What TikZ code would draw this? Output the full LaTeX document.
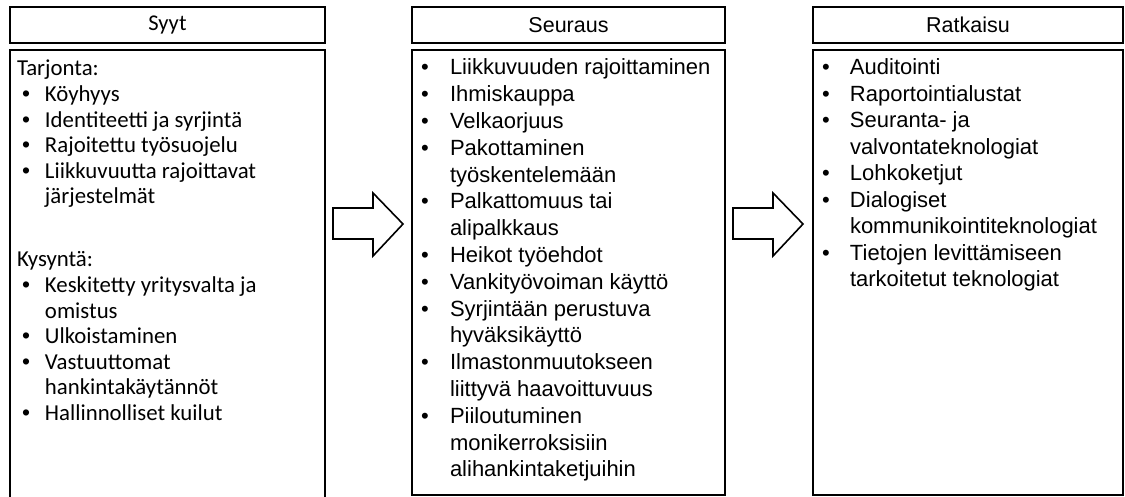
\documentclass[tikz,border=0pt]{standalone}
\usepackage{fontspec}
\setmainfont{Liberation Sans}
\newfontfamily\calfont{Carlito}
\newfontfamily\arialfont{Liberation Sans}
\newcommand\bul{{\arialfont\textbullet}}
\begin{document}
\begin{tikzpicture}[x=1pt,y=-1pt,
  frame/.style={draw, line width=1.7pt, inner sep=0pt, outer sep=0pt},
  hdr/.style={frame, minimum height=36pt, font=\fontsize{21.5}{24}\selectfont},
  body/.style={frame},
  txt/.style={inner sep=0pt, outer sep=0pt, anchor=base west, align=left},
  blockarrow/.style={draw, line width=1.6pt, line join=miter, fill=white}]
\useasboundingbox (0,0) rectangle (1125,497);
\begin{scope}
\clip (0,0) rectangle (1125,497);
% headers
\node[hdr, minimum width=315pt, font=\calfont\fontsize{22.5}{24}\selectfont] (h1) at (167.5,25) {Syyt};
\node[hdr, minimum width=313pt] (h2) at (568.5,25) {Seuraus};
\node[hdr, minimum width=310pt] (h3) at (968,25) {Ratkaisu};
% bodies
\node[body, minimum width=315pt, minimum height=470pt, anchor=north] (b1) at (167.5,50) {};
\node[body, minimum width=313pt, minimum height=445pt, anchor=north] (b2) at (568.5,50) {};
\node[body, minimum width=310pt, minimum height=445pt, anchor=north] (b3) at (968,50) {};
\end{scope}
% left column text
\node[txt, font=\calfont\fontsize{22.8}{25.6}\selectfont] (t1) at (17,76) {%
\begin{tabular}[t]{@{\hspace{5pt}}p{7pt}@{\hspace{16pt}}l@{}}
\multicolumn{2}{@{}l@{}}{Tarjonta:}\\
\bul & Köyhyys\\
\bul & Identiteetti ja syrjintä\\
\bul & Rajoitettu työsuojelu\\
\bul & Liikkuvuutta rajoittavat\\
 & järjestelmät
\end{tabular}};
\node[txt, font=\calfont\fontsize{22.8}{25.6}\selectfont] (t2) at (17,267) {%
\begin{tabular}[t]{@{\hspace{5pt}}p{7pt}@{\hspace{16pt}}l@{}}
\multicolumn{2}{@{}l@{}}{Kysyntä:}\\
\bul & Keskitetty yritysvalta ja\\
 & omistus\\
\bul & Ulkoistaminen\\
\bul & Vastuuttomat\\
 & hankintakäytännöt\\
\bul & Hallinnolliset kuilut
\end{tabular}};
% middle column text
\node[txt, font=\fontsize{22}{26.8}\selectfont] (t3) at (421,75) {%
\begin{tabular}[t]{@{}p{7pt}@{\hspace{22pt}}l@{}}
\bul & Liikkuvuuden rajoittaminen\\
\bul & Ihmiskauppa\\
\bul & Velkaorjuus\\
\bul & Pakottaminen\\
 & työskentelemään\\
\bul & Palkattomuus tai\\
 & alipalkkaus\\
\bul & Heikot työehdot\\
\bul & Vankityövoiman käyttö\\
\bul & Syrjintään perustuva\\
 & hyväksikäyttö\\
\bul & Ilmastonmuutokseen\\
 & liittyvä haavoittuvuus\\
\bul & Piiloutuminen\\
 & monikerroksisiin\\
 & alihankintaketjuihin
\end{tabular}};
% right column text
\node[txt, font=\fontsize{22}{26.5}\selectfont] (t4) at (822,75) {%
\begin{tabular}[t]{@{}p{7pt}@{\hspace{21pt}}l@{}}
\bul & Auditointi\\
\bul & Raportointialustat\\
\bul & Seuranta- ja\\
 & valvontateknologiat\\
\bul & Lohkoketjut\\
\bul & Dialogiset\\
 & kommunikointiteknologiat\\
\bul & Tietojen levittämiseen\\
 & tarkoitetut teknologiat
\end{tabular}};
% block arrows
\draw[blockarrow] (333,208) -- (373,208) -- (373,193) -- (403,224) -- (373,256) -- (373,239) -- (333,239) -- cycle;
\draw[blockarrow] (733,208) -- (773,208) -- (773,193) -- (803,224) -- (773,256) -- (773,239) -- (733,239) -- cycle;
\end{tikzpicture}
\end{document}
